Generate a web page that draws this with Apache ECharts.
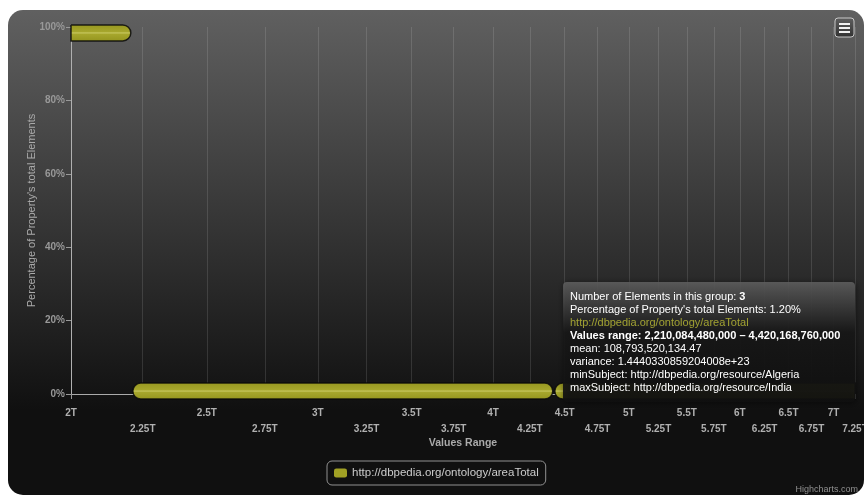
<!DOCTYPE html>
<html><head><meta charset="utf-8">
<script src="https://cdn.jsdelivr.net/npm/echarts@6/dist/echarts.min.js"></script>
<style>html,body{margin:0;padding:0;background:#fff}#c{width:864px;height:496px}</style>
</head><body><div id="c"></div>
<script>
// ---- data ----
const seriesName = 'http://dbpedia.org/ontology/areaTotal';
const rangeStart = [2.0e12, 2.21008448e12, 4.42016876e12];
const rangeEnd   = [2.21008448e12, 4.42016876e12, 8.84033752e12];
const percentage = [98.8, 1.2, 1.2];
const xTickT = [2, 2.25, 2.5, 2.75, 3, 3.25, 3.5, 3.75, 4, 4.25, 4.5, 4.75, 5, 5.25, 5.5, 5.75, 6, 6.25, 6.5, 6.75, 7, 7.25];
const yTicks = [0, 20, 40, 60, 80, 100];
const xMin = 2e12, xMax = 7.25e12;
// tooltip content (hovered group 2)
const tipCount = 3;
const tipPercent = '1.20%';
const tipRange = '2,210,084,480,000 – 4,420,168,760,000';
const tipMean = '108,793,520,134.47';
const tipVariance = '1.4440330859204008e+23';
const tipMinSubject = 'http://dbpedia.org/resource/Algeria';
const tipMaxSubject = 'http://dbpedia.org/resource/India';

const FONT = '"Liberation Sans", Arial, sans-serif';
const xTickValues = xTickT.map(v => v * 1e12);
const barData = rangeStart.map((s, i) => [s, rangeEnd[i], percentage[i]]);

const chart = echarts.init(document.getElementById('c'), null, {renderer: 'canvas'});

// tooltip lines: [text, style]
const tipLines = [
  [['Number of Elements in this group: ', 'n'], [String(tipCount), 'b']],
  [['Percentage of Property\'s total Elements: ' + tipPercent, 'n']],
  [[seriesName, 'u']],
  [['Values range: ' + tipRange, 'b']],
  [['mean: ' + tipMean, 'n']],
  [['variance: ' + tipVariance, 'n']],
  [['minSubject: ' + tipMinSubject, 'n']],
  [['maxSubject: ' + tipMaxSubject, 'n']]
];
const tipStyles = {
  n: {fill: '#ffffff', fontWeight: 'normal'},
  b: {fill: '#ffffff', fontWeight: 'bold'},
  u: {fill: '#a2a232', fontWeight: 'normal'}
};
const TX = 563, TY = 282;
const tipElements = [
  {type: 'rect', z: 200, silent: true, shape: {x: TX, y: TY, width: 292, height: 120, r: 4},
    style: {fill: new echarts.graphic.LinearGradient(0, 0, 0, 1, [
      {offset: 0, color: 'rgba(96,96,96,0.88)'},
      {offset: 0.42, color: 'rgba(24,24,24,0.9)'},
      {offset: 1, color: 'rgba(16,16,16,0.92)'}
    ]), shadowBlur: 6, shadowColor: 'rgba(0,0,0,0.6)', shadowOffsetX: 1, shadowOffsetY: 1}}
];
const measureCtx = document.createElement('canvas').getContext('2d');
tipLines.forEach(function (parts, li) {
  let x = TX + 7;
  parts.forEach(function (p) {
    const st = tipStyles[p[1]];
    measureCtx.font = (st.fontWeight === 'bold' ? 'bold ' : '') + '11px ' + FONT;
    tipElements.push({
      type: 'text', z: 210, silent: true, x: x, y: TY + 15 + li * 13,
      style: {text: p[0], fontFamily: FONT, fontSize: 11, fontWeight: st.fontWeight,
        fill: st.fill, verticalAlign: 'middle', align: 'left'}
    });
    x += measureCtx.measureText(p[0]).width;
  });
});

const option = {
  backgroundColor: '#ffffff',
  animation: false,
  grid: {left: 71, right: 9, top: 27, bottom: 102, containLabel: false, outerBoundsMode: 'none'},
  legend: {
    show: true,
    left: 327, top: 461,
    padding: [6, 7, 6, 7],
    borderColor: '#909090', borderWidth: 1, borderRadius: 5,
    itemWidth: 13, itemHeight: 9, itemGap: 10,
    icon: 'roundRect',
    textStyle: {color: '#cccccc', fontSize: 11.5, fontFamily: FONT},
    data: [seriesName]
  },
  xAxis: {
    type: 'log', min: xMin, max: xMax,
    name: 'Values Range', nameLocation: 'middle', nameGap: 44, nameMoveOverlap: false,
    nameTextStyle: {color: '#aaaaaa', fontWeight: 'bold', fontSize: 10.5, fontFamily: FONT},
    axisLine: {show: true, lineStyle: {color: '#aaaaaa', width: 1}},
    axisTick: {show: true, length: 5, lineStyle: {color: '#999999'}, customValues: xTickValues},
    axisLabel: {
      customValues: xTickValues,
      margin: 11, color: '#b0b0b0', fontWeight: 'bold', fontSize: 10, fontFamily: FONT,
      lineHeight: 16,
      formatter: function (v) {
        const t = Math.round(v / 1e10) / 100;
        const idx = Math.round((t - 2) / 0.25);
        return (idx % 2 ? '\n' : '') + t + 'T';
      }
    },
    splitLine: {show: true, lineStyle: {color: 'rgba(255,255,255,0.12)', width: 1}},
    minorTick: {show: false}, minorSplitLine: {show: false}
  },
  yAxis: {
    type: 'value', min: 0, max: 100, interval: 20,
    name: 'Percentage of Property\'s total Elements', nameLocation: 'middle', nameGap: 34, nameMoveOverlap: false,
    nameTextStyle: {color: '#aaaaaa', fontSize: 11, fontFamily: FONT},
    axisLine: {show: true, lineStyle: {color: '#b0b0b0', width: 1}},
    axisTick: {show: true, length: 5, lineStyle: {color: '#999999'}},
    axisLabel: {margin: 6, color: '#999999', fontWeight: 'bold', fontSize: 10, fontFamily: FONT,
      formatter: function (v) { return yTicks.indexOf(v) >= 0 ? v + '%' : ''; }},
    splitLine: {show: false}
  },
  series: [{
    name: seriesName,
    type: 'custom',
    clip: false,
    z: 2,
    itemStyle: {color: '#a0a024'},
    encode: {x: [0, 1], y: 2},
    data: barData,
    renderItem: function (params, api) {
      const x1 = api.value(0), x2 = api.value(1), y = api.value(2);
      const p1 = api.coord([x1, y]);
      const p2 = api.coord([x2, y]);
      const cs = params.coordSys;
      const h = 16, rr = h / 2;
      let left = p1[0] + 1, right = p2[0] - 1;
      let rl = rr, rrt = rr;
      if (left <= cs.x + 1) { left = cs.x; rl = 0; }
      if (right >= cs.x + cs.width) { right = cs.x + cs.width; rrt = 0; }
      const cy = p1[1] + 1.5;
      return {
        type: 'rect',
        shape: {x: left, y: cy - h / 2, width: right - left, height: h, r: [rl, rrt, rrt, rl]},
        style: {
          fill: new echarts.graphic.LinearGradient(0, 0, 0, 1, [
            {offset: 0, color: '#96961f'},
            {offset: 0.42, color: '#a6a62c'},
            {offset: 0.5, color: '#c4c45a'},
            {offset: 0.58, color: '#a6a62c'},
            {offset: 1, color: '#94941e'}
          ]),
          stroke: 'rgba(10,10,10,0.85)', lineWidth: 1.5
        }
      };
    }
  }],
  graphic: [
    {
      type: 'rect', z: -100, silent: true,
      shape: {x: 8, y: 10, width: 856, height: 485, r: 15},
      style: {fill: new echarts.graphic.LinearGradient(0, 0, 0, 1, [
        {offset: 0, color: 'rgb(96,96,96)'},
        {offset: 0.825, color: 'rgb(16,16,16)'},
        {offset: 1, color: 'rgb(16,16,16)'}
      ])}
    }
  ].concat(tipElements).concat([
    {type: 'rect', z: 200, shape: {x: 835, y: 18, width: 19, height: 19, r: 3},
      style: {fill: new echarts.graphic.LinearGradient(0, 0, 0, 1, [
        {offset: 0, color: '#606060'}, {offset: 1, color: '#303030'}]),
        stroke: '#c8c8c8', lineWidth: 1}},
    {type: 'rect', z: 210, shape: {x: 839, y: 23, width: 11, height: 2}, style: {fill: '#f0f0f0'}},
    {type: 'rect', z: 210, shape: {x: 839, y: 27, width: 11, height: 2}, style: {fill: '#f0f0f0'}},
    {type: 'rect', z: 210, shape: {x: 839, y: 31, width: 11, height: 2}, style: {fill: '#f0f0f0'}},
    {
      type: 'text', z: 200, right: 6, top: 485,
      style: {text: 'Highcharts.com', fontSize: 9, fontFamily: FONT, fill: '#909090'}
    }
  ])
};
chart.setOption(option);
</script>
</body></html>
